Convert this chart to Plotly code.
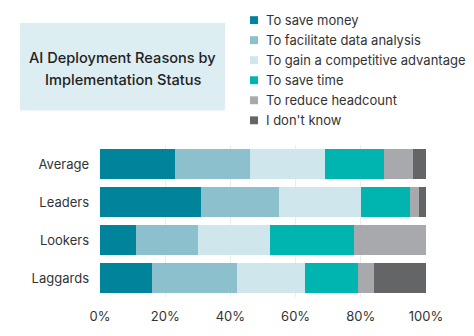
import plotly.graph_objects as go

# Implementation status groups (top to bottom)
groups = ["Average", "Leaders", "Lookers", "Laggards"]

# Share of respondents (%) citing each reason
save_money = [23, 31, 11, 16]
data_analysis = [23, 24, 19, 26]
competitive = [23, 25, 22, 21]
save_time = [18, 15, 26, 16]
headcount = [9, 3, 22, 5]
dont_know = [4, 2, 0, 16]

reasons = ["To save money", "To facilitate data analysis",
           "To gain a competitive advantage", "To save time",
           "To reduce headcount", "I don't know"]
values = [save_money, data_analysis, competitive, save_time, headcount, dont_know]
colors = ["#00849c", "#8cc0cd", "#cfe6ec", "#00b4b0", "#a8a9ac", "#646567"]

x_ticks = [0, 20, 40, 60, 80, 100]
x_tick_labels = [f"{v}%" for v in x_ticks]

FONT = "Inter"
W, H = 474, 336
ML, MR, MT, MB = 100, 48, 145, 37
PW, PH = W - ML - MR, H - MT - MB


def px_x(x):
    """Pixel column -> paper x."""
    return (x - ML) / PW


def px_y(y):
    """Pixel row -> paper y."""
    return (H - MB - y) / PH


fig = go.Figure()
for name, vals, color in zip(reasons, values, colors):
    fig.add_trace(go.Bar(
        name=name, y=groups, x=vals, orientation="h",
        marker=dict(color=color, line=dict(width=0)),
        showlegend=False,
        hovertemplate="%{y}: %{x}%<extra>" + name + "</extra>",
    ))

shapes = []
annotations = []

# Title panel
shapes.append(dict(
    type="rect", xref="paper", yref="paper", layer="below",
    x0=px_x(20), x1=px_x(225), y0=px_y(110), y1=px_y(21.5),
    fillcolor="#ddeef3", line=dict(width=0),
))
for i, line in enumerate(["AI Deployment Reasons by", "Implementation Status"]):
    annotations.append(dict(
        text=line, xref="paper", yref="paper",
        x=px_x(122.5), y=px_y(57 + 22 * i),
        xanchor="center", yanchor="middle", showarrow=False,
        font=dict(family=FONT, size=14.6, color="#222222", weight=500),
    ))

# Legend: small square swatch + label per reason
for i, (name, color) in enumerate(zip(reasons, colors)):
    cy = 18.5 + 20.3 * i
    shapes.append(dict(
        type="rect", xref="paper", yref="paper",
        x0=px_x(250), x1=px_x(258), y0=px_y(cy + 4), y1=px_y(cy - 4),
        fillcolor=color, line=dict(width=0),
    ))
    annotations.append(dict(
        text=name, xref="paper", yref="paper",
        x=px_x(264), y=px_y(cy), xanchor="left", yanchor="middle",
        showarrow=False,
        font=dict(family=FONT, size=13, color="#333333"),
    ))

fig.update_layout(
    width=W, height=H,
    margin=dict(l=ML, r=MR, t=MT, b=MB),
    barmode="stack", bargap=0.19,
    paper_bgcolor="white", plot_bgcolor="white",
    font=dict(family=FONT, size=13, color="#333333"),
    showlegend=False,
    xaxis=dict(
        range=[0, 100], tickvals=x_ticks, ticktext=x_tick_labels,
        showgrid=True, gridcolor="#ececec",
        zeroline=False, showline=False, fixedrange=True,
        ticklabelstandoff=10,
        tickfont=dict(size=13, color="#333333"),
    ),
    yaxis=dict(
        categoryorder="array", categoryarray=groups[::-1],
        showgrid=False, zeroline=False, showline=False,
        ticklabelstandoff=10, fixedrange=True,
        tickfont=dict(size=13, color="#333333"),
    ),
    shapes=shapes,
    annotations=annotations,
)

fig.write_html("out.html")
